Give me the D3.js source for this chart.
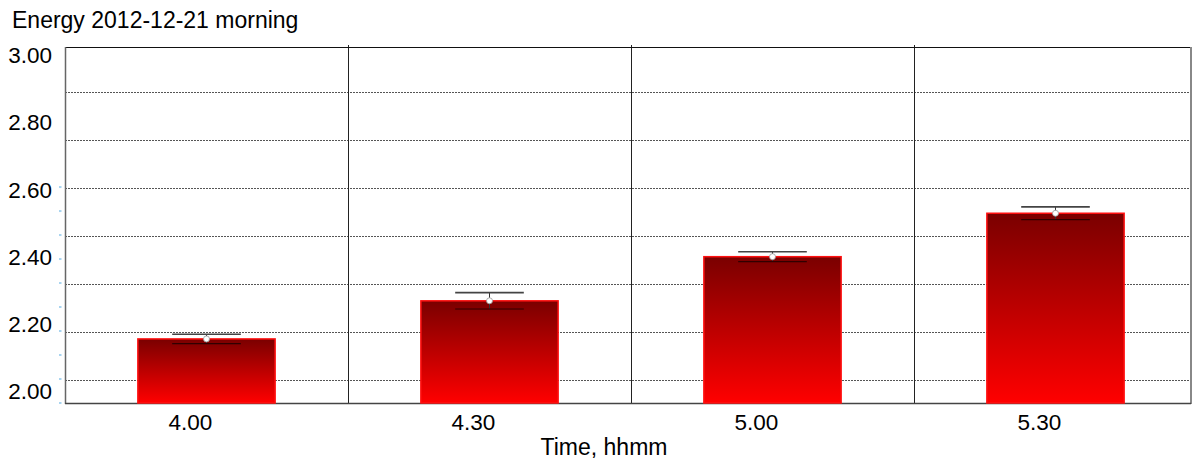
<!DOCTYPE html>
<html>
<head>
<meta charset="utf-8">
<script src="https://cdn.jsdelivr.net/npm/d3@7"></script>
<style>
  html, body { margin: 0; padding: 0; background: #fff; }
  svg { display: block; font-family: "Liberation Sans", Arial, sans-serif; }
</style>
</head>
<body>
<svg id="chart" width="1192" height="461"></svg>
<script>
// ---- data ----
const title = "Energy 2012-12-21 morning";
const xTitle = "Time, hhmm";
const categories = ["4.00", "4.30", "5.00", "5.30"];
const values = [2.180, 2.287, 2.411, 2.533];
const errors = [0.013, 0.023, 0.014, 0.018];
const yTickValues = [3.0, 2.8, 2.6, 2.4, 2.2, 2.0];
const yTickLabels = ["3.00", "2.80", "2.60", "2.40", "2.20", "2.00"];
const gridValues = [2.065, 2.2, 2.335, 2.47, 2.605, 2.74, 2.875];
const minorTickValues = [2.0, 2.0674, 2.1348, 2.2022, 2.2696, 2.337, 2.4044, 2.4718, 2.5392, 2.6066];

// ---- layout ----
const svg = d3.select("#chart");
const plotLeft = 65, plotRight = 1191, plotTop = 47, plotBottom = 403;

const y = d3.scaleLinear().domain([2.0, 3.0]).range([plotBottom, plotTop]);
const yLabel = d3.scaleLinear().domain([2.0, 3.0]).range([391, 55]);
const x = d3.scaleBand().domain(categories).range([plotLeft, 1197]).paddingInner(0).paddingOuter(0);
const barW = x.step() * 0.485;
const capW = barW * 0.5;

// gradient
const defs = svg.append("defs");
const grad = defs.append("linearGradient").attr("id", "barGrad")
  .attr("x1", 0).attr("y1", 0).attr("x2", 0).attr("y2", 1);
grad.append("stop").attr("offset", "0%").attr("stop-color", "#7a0000");
grad.append("stop").attr("offset", "100%").attr("stop-color", "#ff0000");

// title
svg.append("text").attr("x", 12).attr("y", 28)
  .attr("font-size", 23).attr("fill", "#000").text(title);

// gridlines
svg.append("g").selectAll("line").data(gridValues).join("line")
  .attr("x1", plotLeft).attr("x2", plotRight)
  .attr("y1", d => Math.round(y(d)) + 0.5).attr("y2", d => Math.round(y(d)) + 0.5)
  .attr("stroke", "#555").attr("stroke-width", 1).attr("stroke-dasharray", "2,1");

// category separators
const seps = categories.slice(1).map(c => x(c));
svg.append("g").selectAll("line").data(seps).join("line")
  .attr("x1", d => Math.round(d) + 0.5).attr("x2", d => Math.round(d) + 0.5)
  .attr("y1", plotTop - 2).attr("y2", plotBottom)
  .attr("stroke", "#222").attr("stroke-width", 1);

// frame
svg.append("line").attr("x1", plotLeft).attr("x2", plotRight)
  .attr("y1", plotTop + 0.5).attr("y2", plotTop + 0.5).attr("stroke", "#111").attr("stroke-width", 1.2);
svg.append("line").attr("x1", plotLeft + 0.5).attr("x2", plotLeft + 0.5)
  .attr("y1", plotTop).attr("y2", plotBottom + 1).attr("stroke", "#666").attr("stroke-width", 1.5);
svg.append("line").attr("x1", plotRight).attr("x2", plotRight)
  .attr("y1", plotTop).attr("y2", plotBottom + 1).attr("stroke", "#888").attr("stroke-width", 2);
svg.append("line").attr("x1", plotLeft).attr("x2", plotRight)
  .attr("y1", plotBottom + 0.5).attr("y2", plotBottom + 0.5).attr("stroke", "#444").attr("stroke-width", 1.5);

// minor ticks on left (faint blue)
svg.append("g").selectAll("line").data(minorTickValues).join("line")
  .attr("x1", 59).attr("x2", 61.5)
  .attr("y1", d => y(d)).attr("y2", d => y(d))
  .attr("stroke", "#a8d4f0").attr("stroke-width", 2);

// bars
const bars = svg.append("g");
bars.selectAll("rect").data(values).join("rect")
  .attr("x", (d, i) => x(categories[i]) + x.step() / 2 - barW / 2)
  .attr("y", d => y(d))
  .attr("width", barW)
  .attr("height", d => y(2.0) - y(d))
  .attr("fill", "url(#barGrad)")
  .attr("stroke", "#ff1010").attr("stroke-width", 1.5);

// error bars
const eb = svg.append("g");
values.forEach((v, i) => {
  const cx = x(categories[i]) + x.step() / 2;
  const e = errors[i];
  eb.append("line").attr("x1", cx).attr("x2", cx)
    .attr("y1", y(v + e)).attr("y2", y(v - e))
    .attr("stroke", "#333").attr("stroke-width", 1);
  eb.append("line").attr("x1", cx - capW / 2).attr("x2", cx + capW / 2)
    .attr("y1", y(v + e)).attr("y2", y(v + e))
    .attr("stroke", "#444").attr("stroke-width", 1.6);
  eb.append("line").attr("x1", cx - capW / 2).attr("x2", cx + capW / 2)
    .attr("y1", y(v - e)).attr("y2", y(v - e))
    .attr("stroke", "#300000").attr("stroke-width", 1.2);
  eb.append("circle").attr("cx", cx).attr("cy", y(v)).attr("r", 3)
    .attr("fill", "#fff").attr("stroke", "#999").attr("stroke-width", 0.8);
});

// y tick labels
svg.append("g").selectAll("text").data(yTickValues).join("text")
  .attr("x", 52).attr("y", d => yLabel(d))
  .attr("dy", "0.36em")
  .attr("text-anchor", "end").attr("font-size", 22.5).attr("fill", "#000")
  .text((d, i) => yTickLabels[i]);

// x tick labels
svg.append("g").selectAll("text").data(categories).join("text")
  .attr("x", d => x(d) + x.step() / 2 - 16).attr("y", 430)
  .attr("text-anchor", "middle").attr("font-size", 22.5).attr("fill", "#000")
  .text(d => d);

// x axis title
svg.append("text").attr("x", 604).attr("y", 455)
  .attr("text-anchor", "middle").attr("font-size", 23).attr("fill", "#000")
  .text(xTitle);
</script>
</body>
</html>
